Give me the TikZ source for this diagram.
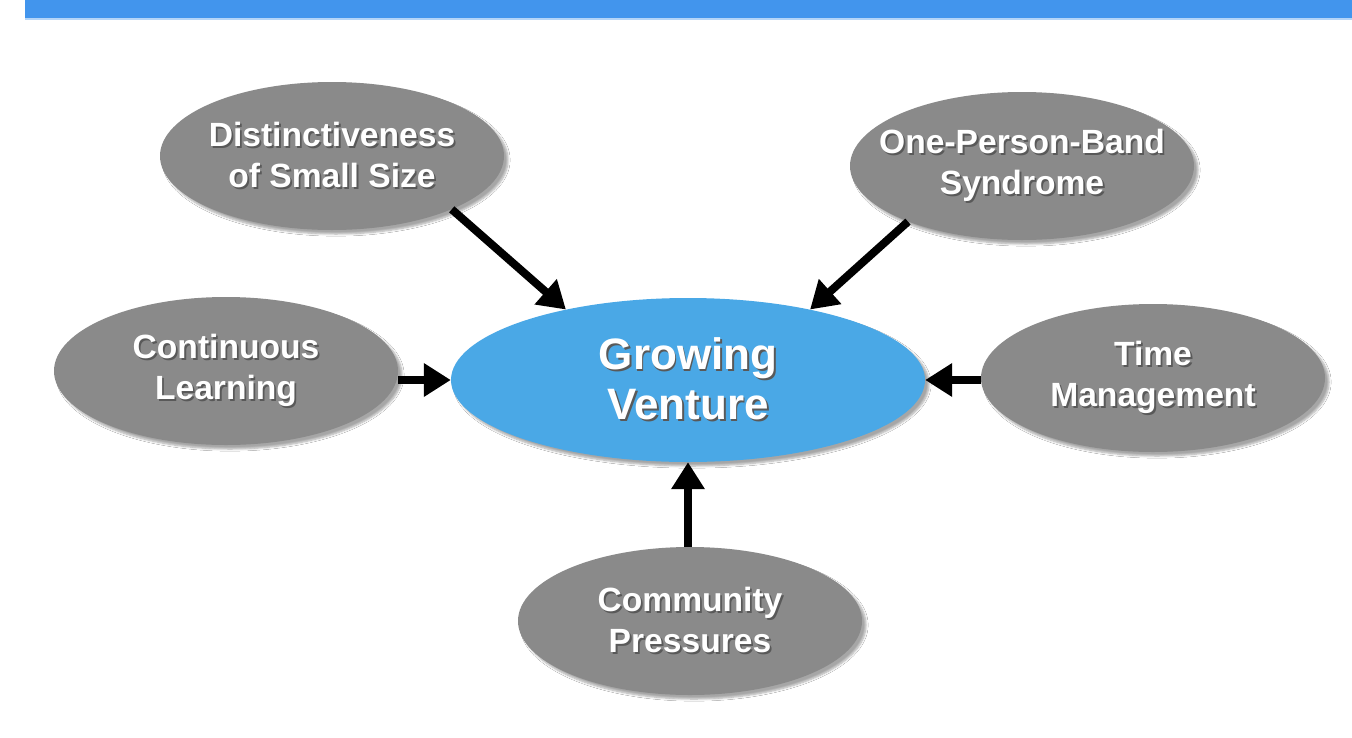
\documentclass[tikz,border=0pt]{standalone}
\usepackage{fontspec}
\setmainfont{Liberation Sans}
\usetikzlibrary{shapes.geometric,arrows.meta,shadows.blur}

\definecolor{bannerblue}{RGB}{66,149,237}
\definecolor{bubblegray}{RGB}{138,138,138}
\definecolor{coreblue}{RGB}{74,168,230}

% white lettering with a dark offset shadow
\newcommand\shtxt[1]{\leavevmode\rlap{\kern1.8pt\raisebox{-1.8pt}{\textcolor{black!65}{#1}}}#1}

\tikzset{
  bubble/.style={ellipse, fill=bubblegray, minimum width=344pt, minimum height=148pt,
    inner sep=-30pt, align=center, text=white, font=\bfseries\fontsize{33.6}{41}\selectfont,
    blur shadow={shadow xshift=4pt, shadow yshift=-4pt, shadow blur steps=6, shadow opacity=35}},
  core/.style={ellipse, fill=coreblue, minimum width=474pt, minimum height=164pt,
    inner sep=-20pt, align=center, text=white, font=\bfseries\fontsize{44}{50}\selectfont,
    blur shadow={shadow xshift=4pt, shadow yshift=-4pt, shadow blur steps=6, shadow opacity=35}},
  feed/.style={line width=8pt, -{Triangle[length=27pt,width=32pt]}}
}

\begin{document}
\begin{tikzpicture}[x=1pt,y=-1pt]
  \useasboundingbox (0,0) rectangle (1352,737);
  \fill[white] (0,0) rectangle (1352,737);

  % title banner
  \fill[bannerblue] (25,0) rectangle (1352,18);
  \fill[bannerblue!40] (25,18) rectangle (1352,19.5);

  % nodes
  \node[core]   (gv) at (688,380) {\shtxt{Growing}\\\shtxt{Venture}};
  \node[bubble] (ds) at (332,156) {\shtxt{Distinctiveness}\\\shtxt{of Small Size}};
  \node[bubble] (ob) at (1022,166) {\shtxt{One-Person-Band}\\\shtxt{Syndrome}};
  \node[bubble] (cl) at (226,371) {\shtxt{Continuous}\\\shtxt{Learning}};
  \node[bubble] (tm) at (1153,378) {\shtxt{Time}\\\shtxt{Management}};
  \node[bubble] (cp) at (690,621) {\shtxt{Community}\\\shtxt{Pressures}};

  % connectors
  \draw[feed] (ds.-24) -- (gv.150);
  \draw[feed] (ob.206) -- (gv.30);
  \draw[feed] (cl.east |- gv.west) -- (gv.west);
  \draw[feed] (tm.west |- gv.east) -- (gv.east);
  \draw[feed] (cp.north -| gv.south) -- (gv.south);
\end{tikzpicture}
\end{document}
